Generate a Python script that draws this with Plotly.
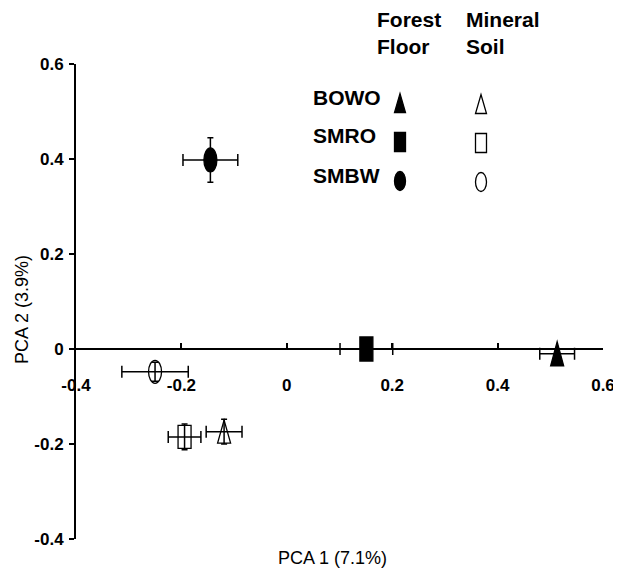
import plotly.graph_objects as go

# ---- data ----
groups = ["BOWO", "SMRO", "SMBW"]
ff_x = [0.513, 0.151, -0.145]      # forest floor PCA1
ff_y = [-0.010, 0.000, 0.398]      # forest floor PCA2
ff_xerr = [0.033, 0.050, 0.052]
ff_yerr = [0.010, 0.010, 0.047]
ms_x = [-0.119, -0.194, -0.250]    # mineral soil PCA1
ms_y = [-0.174, -0.185, -0.048]    # mineral soil PCA2
ms_xerr = [0.034, 0.031, 0.063]
ms_yerr = [0.026, 0.027, 0.020]
tick_vals = [-0.4, -0.2, 0, 0.2, 0.4, 0.6]
tick_text = ["-0.4", "-0.2", "0", "0.2", "0.4", "0.6"]
shapes_kind = ["triangle", "rect", "ellipse"]

# page body has an 8px default margin; size the figure to fit the window
OFF = 8
W, H = 621 - OFF, 570 - OFF
ML, MR, MT, MB = 76 - OFF, 18, 64 - OFF, 31
PW, PH = W - ML - MR, H - MT - MB
FONT = "Liberation Sans, Arial, sans-serif"


def px2paper(px, py):
    """window pixel -> paper coordinate"""
    fx, fy = px - OFF, py - OFF
    return (fx - ML) / PW, (H - MB - fy) / PH


fig = go.Figure()
err_style = dict(color="black", thickness=1.5)
for xs, ys, xe, ye in [(ff_x, ff_y, ff_xerr, ff_yerr), (ms_x, ms_y, ms_xerr, ms_yerr)]:
    fig.add_trace(go.Scatter(
        x=xs, y=ys, mode="markers",
        marker=dict(size=1, color="rgba(0,0,0,0)"),
        error_x=dict(type="data", array=xe, width=6, **err_style),
        error_y=dict(type="data", array=ye, width=3, **err_style),
        showlegend=False, hoverinfo="skip", cliponaxis=False,
    ))

shapes = []


def symbol(kind, filled, xa, ya, hw, hh, ref):
    xref, yref = ref
    base = dict(xref=xref, yref=yref, xsizemode="pixel", ysizemode="pixel",
                xanchor=xa, yanchor=ya, layer="above",
                line=dict(color="black", width=1.3),
                fillcolor="black" if filled else "rgba(0,0,0,0)")
    if kind == "triangle":
        base.update(type="path",
                    path=f"M{-hw},{-hh} L{hw},{-hh} L0,{hh} Z")
    elif kind == "rect":
        base.update(type="rect", x0=-hw, x1=hw, y0=-hh, y1=hh)
    else:
        base.update(type="circle", x0=-hw, x1=hw, y0=-hh, y1=hh)
    return base


for i, k in enumerate(shapes_kind):
    shapes.append(symbol(k, True, ff_x[i], ff_y[i], 6.5, 12, ("x", "y")))
    shapes.append(symbol(k, False, ms_x[i], ms_y[i], 6.5, 11.5, ("x", "y")))

# legend (custom, as in the original)
legend_rows_py = [103, 142, 181]
annotations = []
for i, k in enumerate(shapes_kind):
    fx, fy = px2paper(400, legend_rows_py[i])
    ox, oy = px2paper(481, legend_rows_py[i] + 1)
    shapes.append(symbol(k, True, fx, fy, 5.5, 9.5, ("paper", "paper")))
    shapes.append(symbol(k, False, ox, oy, 5.5, 9.5, ("paper", "paper")))
    lx, ly = px2paper(311, legend_rows_py[i] - 6)
    annotations.append(dict(xref="paper", yref="paper", x=lx, y=ly, text=groups[i],
                            xanchor="left", yanchor="middle", showarrow=False,
                            font=dict(family=FONT, size=21, color="black", weight="bold")))

for txt, px in [("Forest<br>Floor", 375), ("Mineral<br>Soil", 464)]:
    hx, hy = px2paper(px, 33)
    annotations.append(dict(xref="paper", yref="paper", x=hx, y=hy, text=txt,
                            xanchor="left", yanchor="middle", align="left", showarrow=False,
                            font=dict(family=FONT, size=21, color="black", weight="bold")))

tx, ty = px2paper(332, 558)
annotations.append(dict(xref="paper", yref="paper", x=tx, y=ty, text="PCA 1 (7.1%)",
                        xanchor="center", yanchor="middle", showarrow=False,
                        font=dict(family=FONT, size=18, color="black")))
yx, yy = px2paper(22, 310)
annotations.append(dict(xref="paper", yref="paper", x=yx, y=yy, text="PCA 2 (3.9%)",
                        textangle=-90, xanchor="center", yanchor="middle", showarrow=False,
                        font=dict(family=FONT, size=18, color="black")))

fig.update_layout(
    width=W, height=H,
    margin=dict(l=ML, r=MR, t=MT, b=MB, pad=0),
    paper_bgcolor="white", plot_bgcolor="white",
    showlegend=False,
    shapes=shapes, annotations=annotations,
    xaxis=dict(range=[-0.4, 0.6], anchor="free", position=0.4, automargin=False,
               showgrid=False, zeroline=False, showline=True, linecolor="black", linewidth=2,
               ticks="inside", ticklen=5, tickwidth=1.5, tickcolor="black",
               tickvals=tick_vals, ticktext=tick_text, ticklabelstandoff=21,
               tickfont=dict(family=FONT, size=17, color="black", weight="bold")),
    yaxis=dict(range=[-0.4, 0.6], showgrid=False, zeroline=False, automargin=False,
               showline=True, linecolor="black", linewidth=2,
               ticks="outside", ticklen=5, tickwidth=1.5, tickcolor="black",
               tickvals=tick_vals, ticktext=tick_text, ticklabelstandoff=2,
               tickfont=dict(family=FONT, size=17, color="black", weight="bold")),
)

fig.write_html("out.html")
